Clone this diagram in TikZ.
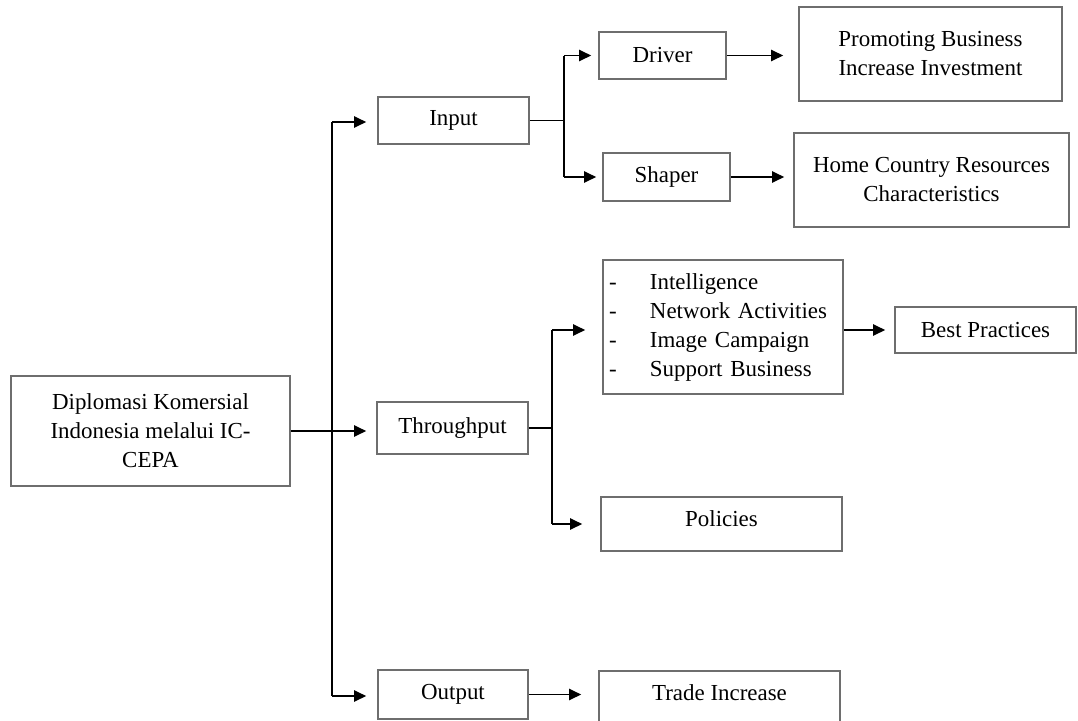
\documentclass[tikz,border=0pt]{standalone}
\usepackage{fontspec}
\setmainfont{Liberation Serif}
\usetikzlibrary{arrows.meta}
\definecolor{boxgray}{RGB}{110,110,110}
\tikzset{
 box/.style={draw=boxgray, line width=1.3pt, rectangle, inner sep=0pt, align=center, font=\fontsize{17.2pt}{21.75pt}\selectfont},
 sz/.style 2 args={minimum width=#1*0.75pt, minimum height=#2*0.75pt},
 ln/.style={draw=black, line width=1.05pt},
 arr/.style={ln, -{Triangle[length=9pt,width=8.5pt]}},
 gap/.style={shorten >=#1*0.75pt},
 txt/.style={font=\fontsize{17.2pt}{21.75pt}\selectfont, inner sep=0pt}
}
\begin{document}
\begin{tikzpicture}[x=0.75pt,y=-0.75pt]
\useasboundingbox (0,0) rectangle (1078,721);
% boxes
\node[box,sz={279}{110}] (diplo) at (150.5,431) {Diplomasi Komersial\\Indonesia melalui IC-\\CEPA};
\node[box,sz={151}{47}] (input) at (453.5,120.5) {Input};
\node[box,sz={151}{52}] (through) at (452.5,428) {Throughput};
\node[box,sz={150}{49}] (output) at (453,694.5) {Output};
\node[box,sz={127}{47}] (driver) at (662.5,55.5) {Driver};
\node[box,sz={127}{48}] (shaper) at (666.5,177) {Shaper};
\node[box,sz={263}{94}] (promo) at (930.5,54) {Promoting Business\\Increase Investment};
\node[box,sz={275}{94}] (home) at (931.5,180) {Home Country Resources\\Characteristics};
\node[box,sz={240}{134},align=left,text width=171pt,inner xsep=4.5pt] (list) at (723,327)
  {\makebox[30.75pt][l]{-}Intelligence\\\makebox[30.75pt][l]{-}Network Activities\\\makebox[30.75pt][l]{-}Image Campaign\\\makebox[30.75pt][l]{-}Support Business};
\node[box,sz={181}{46}] (best) at (985.5,330) {Best Practices};
\node[box,sz={241}{54},label={[txt,name=poltext,yshift=3.75pt]center:Policies}] (policies) at (721.5,524) {};
\node[box,sz={241}{53},label={[txt,name=tradetext,yshift=3.4pt]center:Trade Increase}] (trade) at (719.5,697.5) {};
% junction coordinates
\coordinate (vtop) at (332,122);
\coordinate (vbot) at (332,696);
\coordinate (ibtop) at (564,55.5);
\coordinate (ibbot) at (564,177);
\coordinate (tbtop) at (552,330);
\coordinate (tbbot) at (552,524);
% main spine
\draw[ln] (vtop) -- (vbot);
\draw[arr,gap=10] (diplo.east) -- (diplo.east -| through.west);
\draw[arr,gap=11] (vtop) -- (vtop -| input.west);
\draw[arr,gap=11] (vbot) -- (vbot -| output.west);
% input branch
\draw[ln] (input.east) -- (input.east -| ibtop);
\draw[ln] (ibtop) -- (ibbot);
\draw[arr,gap=7] (ibtop) -- (ibtop -| driver.west);
\draw[arr,gap=6] (ibbot) -- (ibbot -| shaper.west);
\draw[arr,gap=15] (driver.east) -- (driver.east -| promo.west);
\draw[arr,gap=9] (shaper.east) -- (shaper.east -| home.west);
% throughput branch
\draw[ln] (through.east) -- (through.east -| tbtop);
\draw[ln] (tbtop) -- (tbbot);
\draw[arr,gap=17] (tbtop) -- (tbtop -| list.west);
\draw[arr,gap=18] (tbbot) -- (tbbot -| policies.west);
\draw[arr,gap=9] (best.west -| list.east) -- (best.west);
% output branch
\draw[arr,gap=17] (output.east) -- (output.east -| trade.west);
\end{tikzpicture}
\end{document}
